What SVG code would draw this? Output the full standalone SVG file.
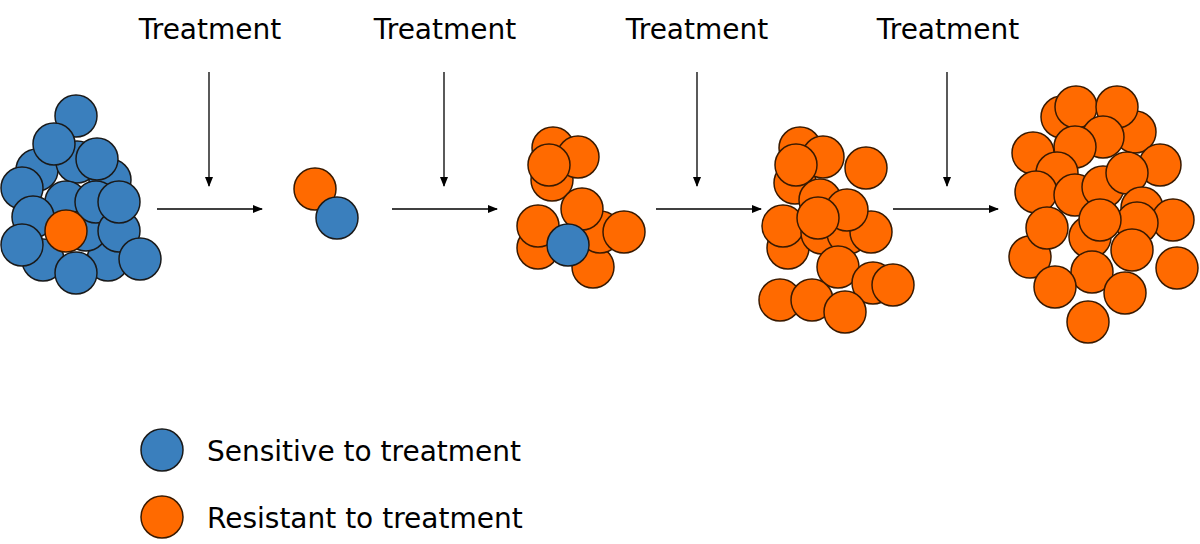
<svg xmlns="http://www.w3.org/2000/svg" width="1200" height="544" viewBox="0 0 1200 544">
<style>
.b{fill:#3a7fbd;stroke:#1a1a1a;stroke-width:1.5}
.o{fill:#ff6a00;stroke:#3a1a00;stroke-width:1.5}
text{font-family:"DejaVu Sans",sans-serif;font-size:28px;fill:#000}
.l{stroke:#000;stroke-width:1.3;fill:none}
</style>
<defs><marker id="a" markerWidth="10" markerHeight="8" refX="9" refY="4" orient="auto" markerUnits="userSpaceOnUse"><path d="M0,0L10,4L0,8z" fill="#000"/></marker></defs>
<rect width="1200" height="544" fill="#fff"/>
<g id="labels">
<text x="210" y="39" text-anchor="middle">Treatment</text>
<text x="445" y="39" text-anchor="middle">Treatment</text>
<text x="697" y="39" text-anchor="middle">Treatment</text>
<text x="948" y="39" text-anchor="middle">Treatment</text>
</g>
<g id="connectors">
<path class="l" marker-end="url(#a)" d="M209,72V186"/>
<path class="l" marker-end="url(#a)" d="M444,72V186"/>
<path class="l" marker-end="url(#a)" d="M697,72V186"/>
<path class="l" marker-end="url(#a)" d="M947,72V186"/>
<path class="l" marker-end="url(#a)" d="M157,209H262"/>
<path class="l" marker-end="url(#a)" d="M392,209H497"/>
<path class="l" marker-end="url(#a)" d="M656,209H761"/>
<path class="l" marker-end="url(#a)" d="M893,209H998"/>
</g>
<g id="cluster1">
<circle class="b" cx="43" cy="260" r="21"/><circle class="b" cx="108" cy="260" r="21"/>
<circle class="b" cx="37" cy="170" r="21"/><circle class="b" cx="77" cy="162" r="21"/><circle class="b" cx="110" cy="180" r="21"/>
<circle class="b" cx="66" cy="202" r="21"/><circle class="b" cx="86" cy="230" r="21"/>
<circle class="b" cx="76" cy="116" r="21"/><circle class="b" cx="54" cy="144" r="21"/><circle class="b" cx="97" cy="159" r="21"/>
<circle class="b" cx="22" cy="188" r="21"/><circle class="b" cx="33" cy="217" r="21"/>
<circle class="b" cx="96" cy="202" r="21"/><circle class="b" cx="119" cy="231" r="21"/><circle class="b" cx="119" cy="202" r="21"/>
<circle class="o" cx="66" cy="231" r="21"/>
<circle class="b" cx="22" cy="245" r="21"/><circle class="b" cx="76" cy="273" r="21"/><circle class="b" cx="140" cy="259" r="21"/>
</g>
<g id="cluster2">
<circle class="o" cx="315" cy="189" r="21"/><circle class="b" cx="337" cy="218" r="21"/>
</g>
<g id="cluster3">
<circle class="o" cx="553" cy="148" r="21"/><circle class="o" cx="552" cy="180" r="21"/><circle class="o" cx="578" cy="157" r="21"/><circle class="o" cx="549" cy="165" r="21"/>
<circle class="o" cx="538" cy="248" r="21"/><circle class="o" cx="538" cy="226" r="21"/><circle class="o" cx="593" cy="267" r="21"/><circle class="o" cx="600" cy="232" r="21"/>
<circle class="o" cx="582" cy="209" r="21"/><circle class="o" cx="624" cy="232" r="21"/><circle class="b" cx="568" cy="245" r="21"/>
</g>
<g id="cluster4">
<circle class="o" cx="800" cy="148" r="21"/><circle class="o" cx="795" cy="183" r="21"/><circle class="o" cx="823" cy="157" r="21"/><circle class="o" cx="796" cy="165" r="21"/>
<circle class="o" cx="866" cy="168" r="21"/><circle class="o" cx="788" cy="248" r="21"/><circle class="o" cx="783" cy="226" r="21"/>
<circle class="o" cx="820" cy="200" r="21"/><circle class="o" cx="822" cy="233" r="21"/><circle class="o" cx="848" cy="233" r="21"/><circle class="o" cx="871" cy="232" r="21"/>
<circle class="o" cx="838" cy="267" r="21"/><circle class="o" cx="847" cy="210" r="21"/><circle class="o" cx="818" cy="218" r="21"/>
<circle class="o" cx="873" cy="283" r="21"/><circle class="o" cx="893" cy="285" r="21"/><circle class="o" cx="780" cy="300" r="21"/><circle class="o" cx="812" cy="300" r="21"/><circle class="o" cx="845" cy="312" r="21"/>
</g>
<g id="cluster5">
<circle class="o" cx="1062" cy="117" r="21"/><circle class="o" cx="1076" cy="107" r="21"/><circle class="o" cx="1135" cy="132" r="21"/><circle class="o" cx="1117" cy="107" r="21"/>
<circle class="o" cx="1103" cy="137" r="21"/><circle class="o" cx="1075" cy="147" r="21"/><circle class="o" cx="1033" cy="153" r="21"/><circle class="o" cx="1160" cy="165" r="21"/>
<circle class="o" cx="1057" cy="173" r="21"/><circle class="o" cx="1036" cy="192" r="21"/><circle class="o" cx="1075" cy="195" r="21"/><circle class="o" cx="1103" cy="187" r="21"/><circle class="o" cx="1127" cy="173" r="21"/>
<circle class="o" cx="1142" cy="208" r="21"/><circle class="o" cx="1173" cy="220" r="21"/><circle class="o" cx="1137" cy="223" r="21"/><circle class="o" cx="1090" cy="237" r="21"/><circle class="o" cx="1100" cy="220" r="21"/>
<circle class="o" cx="1030" cy="257" r="21"/><circle class="o" cx="1047" cy="228" r="21"/><circle class="o" cx="1132" cy="250" r="21"/><circle class="o" cx="1092" cy="272" r="21"/><circle class="o" cx="1177" cy="268" r="21"/>
<circle class="o" cx="1055" cy="287" r="21"/><circle class="o" cx="1125" cy="293" r="21"/><circle class="o" cx="1088" cy="322" r="21"/>
</g>
<g id="legend">
<circle class="b" cx="162" cy="450" r="21"/><text x="207" y="461">Sensitive to treatment</text>
<circle class="o" cx="162" cy="517" r="21"/><text x="207" y="528">Resistant to treatment</text>
</g>
</svg>
